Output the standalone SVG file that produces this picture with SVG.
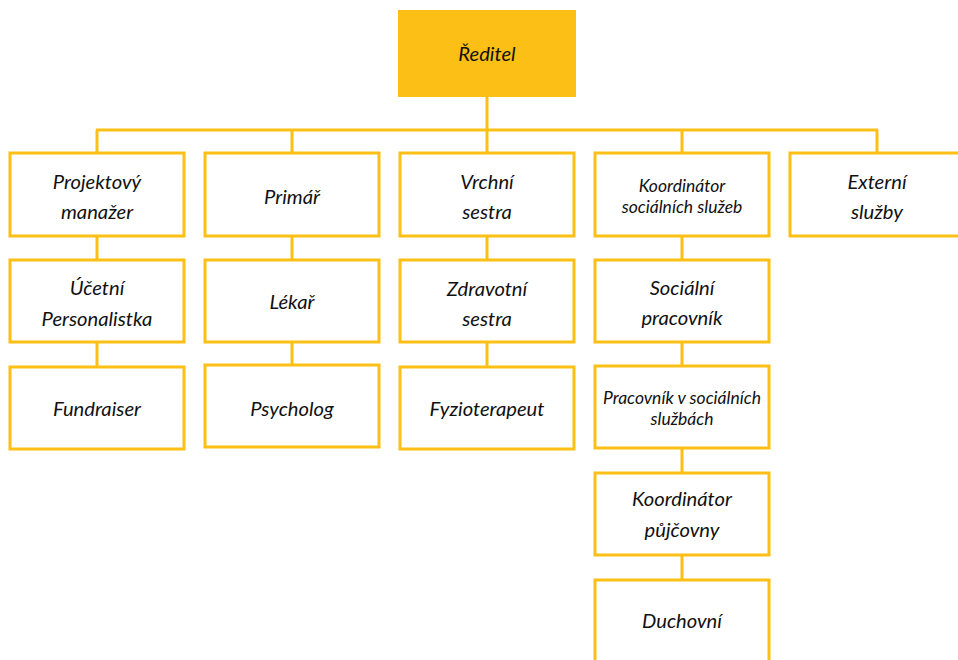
<svg xmlns="http://www.w3.org/2000/svg" width="958" height="660" viewBox="0 0 958 660">
<style>
.b{fill:#fff;stroke:#FBBF15;stroke-width:3}
.c{stroke:#FBBF15;stroke-width:3;fill:none}
text{font-family:Lato,"Open Sans",sans-serif;font-style:italic;font-size:20.2px;fill:#111;text-anchor:middle;dominant-baseline:central}
.s{font-size:17.5px}
</style>
<rect width="958" height="660" fill="#fff"/>
<g id="connectors">
<path class="c" d="M487 97V130M96 130H878M97 130V152M292 130V152M487 130V152M682 130V152M877 130V152"/>
<path class="c" d="M97 237V259M97 343V366M292 237V259M292 343V364M487 237V259M487 343V366M682 237V259M682 343V365M682 449V472M682 556V579"/>
</g>
<g id="reditel"><rect x="398" y="10" width="178" height="87" fill="#FBBF15"/><text x="487" y="53">Ředitel</text></g>
<g id="projektovy"><rect class="b" x="10" y="153" width="174" height="83"/><text x="97" y="181">Projektový</text><text x="97" y="211">manažer</text></g>
<g id="primar"><rect class="b" x="205" y="153" width="174" height="83"/><text x="292" y="196">Primář</text></g>
<g id="vrchni"><rect class="b" x="400" y="153" width="174" height="83"/><text x="487" y="181">Vrchní</text><text x="487" y="211">sestra</text></g>
<g id="koordinator-ss"><rect class="b" x="595" y="153" width="174" height="83"/><text class="s" x="682" y="185">Koordinátor</text><text class="s" x="682" y="206">sociálních služeb</text></g>
<g id="externi"><rect class="b" x="790" y="153" width="174" height="83"/><text x="877" y="181">Externí</text><text x="877" y="211">služby</text></g>
<g id="ucetni"><rect class="b" x="10" y="260" width="174" height="82"/><text x="97" y="287">Účetní</text><text x="97" y="318">Personalistka</text></g>
<g id="lekar"><rect class="b" x="205" y="260" width="174" height="82"/><text x="292" y="301">Lékař</text></g>
<g id="zdravotni"><rect class="b" x="400" y="260" width="174" height="82"/><text x="487" y="288">Zdravotní</text><text x="487" y="318">sestra</text></g>
<g id="socialni"><rect class="b" x="595" y="260" width="174" height="82"/><text x="682" y="287">Sociální</text><text x="682" y="317">pracovník</text></g>
<g id="fundraiser"><rect class="b" x="10" y="367" width="174" height="82"/><text x="97" y="408">Fundraiser</text></g>
<g id="psycholog"><rect class="b" x="205" y="365" width="174" height="82"/><text x="292" y="408">Psycholog</text></g>
<g id="fyzioterapeut"><rect class="b" x="400" y="367" width="174" height="82"/><text x="487" y="408">Fyzioterapeut</text></g>
<g id="pracovnik"><rect class="b" x="595" y="366" width="174" height="82"/><text class="s" x="682" y="397">Pracovník v sociálních</text><text class="s" x="682" y="418">službách</text></g>
<g id="koordinator-p"><rect class="b" x="595" y="473" width="174" height="82"/><text x="682" y="498">Koordinátor</text><text x="682" y="529">půjčovny</text></g>
<g id="duchovni"><rect class="b" x="595" y="580" width="174" height="100"/><text x="682" y="620">Duchovní</text></g>
</svg>
